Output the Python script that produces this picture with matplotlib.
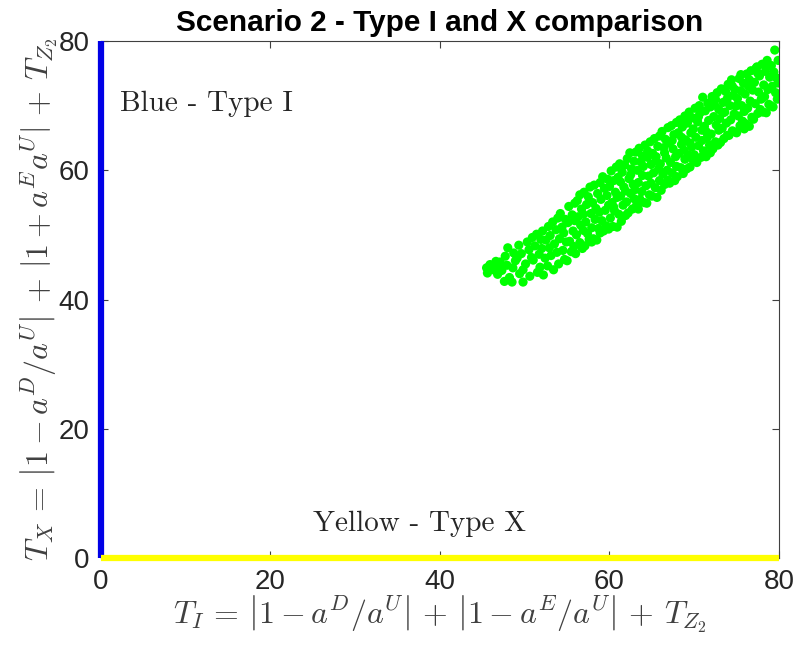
import matplotlib
matplotlib.use('Agg')
import matplotlib.pyplot as plt

# tick values shared by both axes
ticks = [0, 20, 40, 60, 80]

# Type I (blue) sits on x = 0, Type X (yellow) sits on y = 0
blue_x = [0, 0]
blue_y = [0, 80]
yellow_x = [0, 80]
yellow_y = [0, 0]

# green scatter (x in steps of ~1)
green_x = [
    45.5, 45.6, 45.9,
    46.3, 46.6, 46.8, 46.9,
    47.1, 47.3, 47.6, 47.7, 47.9,
    48.0, 48.2, 48.5, 48.6, 48.7, 48.9,
    49.1, 49.3, 49.4, 49.6, 49.8, 49.8,
    50.1, 50.3, 50.5, 50.6, 50.8, 50.9,
    51.0, 51.2, 51.4, 51.5, 51.7, 51.8, 51.9,
    52.0, 52.1, 52.2, 52.4, 52.5, 52.7, 52.8, 52.9,
    53.0, 53.1, 53.3, 53.4, 53.5, 53.7, 53.8, 53.9,
    54.0, 54.1, 54.2, 54.4, 54.5, 54.6, 54.7, 54.8, 54.9,
    55.0, 55.1, 55.2, 55.3, 55.5, 55.6, 55.7, 55.8, 55.9, 55.9,
    56.0, 56.1, 56.2, 56.3, 56.5, 56.5, 56.6, 56.7, 56.8, 56.9, 56.9,
    57.0, 57.1, 57.2, 57.3, 57.4, 57.5, 57.6, 57.7, 57.8, 57.9, 57.9,
    58.0, 58.1, 58.2, 58.3, 58.4, 58.5, 58.6, 58.7, 58.8, 58.9, 58.9,
    59.0, 59.1, 59.2, 59.3, 59.4, 59.5, 59.6, 59.7, 59.8, 59.9, 59.9,
    60.0, 60.1, 60.2, 60.3, 60.4, 60.5, 60.6, 60.7, 60.8, 60.9, 60.9, 60.5,
    61.0, 61.1, 61.2, 61.3, 61.4, 61.5, 61.6, 61.7, 61.8, 61.9, 61.9, 61.3,
    62.0, 62.1, 62.2, 62.3, 62.4, 62.5, 62.6, 62.7, 62.8, 62.9, 62.9, 62.5,
    63.0, 63.1, 63.2, 63.3, 63.4, 63.5, 63.6, 63.7, 63.8, 63.9, 63.9, 63.4,
    64.0, 64.1, 64.2, 64.3, 64.4, 64.5, 64.6, 64.7, 64.8, 64.9, 64.9, 64.5,
    65.0, 65.1, 65.2, 65.3, 65.4, 65.5, 65.6, 65.7, 65.8, 65.9, 65.9, 65.5,
    66.0, 66.1, 66.2, 66.3, 66.4, 66.5, 66.6, 66.7, 66.8, 66.9, 66.9, 66.5,
    67.0, 67.1, 67.2, 67.3, 67.4, 67.5, 67.6, 67.7, 67.8, 67.9, 67.9, 67.4,
    68.0, 68.1, 68.2, 68.3, 68.4, 68.5, 68.6, 68.7, 68.8, 68.9, 68.9, 68.5,
    69.0, 69.1, 69.2, 69.3, 69.4, 69.5, 69.6, 69.7, 69.8, 69.9, 69.9, 69.5,
    70.0, 70.1, 70.2, 70.3, 70.4, 70.5, 70.6, 70.7, 70.8, 70.9, 70.9, 70.5,
    71.0, 71.1, 71.2, 71.3, 71.4, 71.5, 71.6, 71.7, 71.8, 71.9, 71.9, 71.4,
    72.0, 72.1, 72.2, 72.3, 72.4, 72.5, 72.6, 72.7, 72.8, 72.9, 72.9, 72.5,
    73.0, 73.1, 73.2, 73.3, 73.4, 73.5, 73.6, 73.7, 73.8, 73.9, 73.9, 73.4,
    74.0, 74.1, 74.2, 74.3, 74.4, 74.5, 74.6, 74.7, 74.8, 74.9, 74.9, 74.5,
    75.0, 75.1, 75.2, 75.3, 75.4, 75.5, 75.6, 75.7, 75.8, 75.9, 75.9, 75.5,
    76.0, 76.1, 76.2, 76.3, 76.4, 76.5, 76.6, 76.7, 76.8, 76.9, 76.5,
    77.0, 77.1, 77.2, 77.3, 77.4, 77.5, 77.6, 77.7, 77.8, 77.9, 77.5,
    78.0, 78.1, 78.2, 78.3, 78.4, 78.5, 78.6, 78.7, 78.8, 78.9, 78.5,
    79.0, 79.1, 79.2, 79.3, 79.4, 79.5, 79.6, 79.7, 79.8, 79.9, 79.9,
]
green_y = [
    44.9, 44.1, 45.4,
    44.6, 45.9, 43.9, 45.1,
    45.8, 44.5, 42.8, 46.7, 45.3,
    48.0, 43.4, 42.7, 44.9, 47.2, 46.0,
    46.4, 48.4, 44.0, 47.1, 42.7, 44.6,
    45.5, 48.9, 47.7, 43.6, 46.5, 49.6,
    46.1, 48.3, 50.1, 44.2, 47.0, 45.0, 49.3,
    47.9, 50.6, 43.8, 46.4, 49.2, 45.2, 51.3, 48.0,
    49.9, 46.8, 52.0, 44.6, 48.6, 50.8, 47.3, 52.6,
    45.5, 49.4, 53.3, 51.2, 47.6, 50.3, 46.2, 52.4, 48.9,
    46.0, 51.9, 54.4, 49.0, 47.4, 53.1, 50.6, 48.2, 52.2, 54.9,
    47.1, 50.0, 55.3, 52.8, 56.2, 48.8, 51.5, 54.0, 47.9, 53.2, 50.7,
    56.6, 48.3, 52.0, 54.7, 50.2, 55.9, 49.3, 57.4, 53.3, 51.1, 48.9,
    55.0, 49.4, 57.7, 52.4, 54.1, 49.2, 56.4, 51.0, 53.5, 50.3, 58.1,
    55.5, 52.2, 59.0, 50.6, 57.2, 53.8, 51.4, 56.1, 58.6, 54.6, 50.9,
    57.5, 52.6, 59.9, 55.0, 51.3, 58.4, 53.7, 56.6, 60.5, 51.2, 55.8, 54.3,
    58.9, 53.2, 61.0, 56.0, 52.1, 59.7, 54.6, 57.4, 60.8, 53.0, 56.8, 58.2,
    55.1, 61.8, 53.4, 58.7, 62.7, 56.4, 60.2, 54.0, 57.8, 61.4, 55.6, 59.3,
    57.0, 62.8, 54.6, 60.0, 58.1, 63.4, 55.5, 61.3, 56.7, 59.2, 62.2, 54.0,
    60.6, 55.0, 63.9, 57.6, 54.9, 62.0, 59.1, 56.2, 64.4, 60.9, 58.0, 63.0,
    56.0, 62.6, 59.6, 64.9, 57.3, 61.4, 55.8, 63.7, 60.2, 58.4, 65.3, 62.1,
    61.0, 56.9, 66.0, 59.4, 63.5, 57.8, 64.8, 61.9, 60.0, 66.6, 58.5, 62.7,
    64.2, 58.0, 61.2, 66.9, 59.6, 63.3, 65.5, 58.4, 62.1, 67.4, 60.6, 64.6,
    59.0, 65.8, 62.6, 67.8, 60.4, 64.0, 66.7, 59.5, 63.1, 68.4, 61.7, 65.1,
    64.7, 60.2, 67.3, 62.4, 69.0, 60.5, 65.8, 63.6, 68.1, 61.5, 66.4, 64.2,
    62.4, 69.6, 65.1, 61.2, 67.5, 63.8, 70.0, 68.9, 62.0, 66.2, 64.6, 68.3,
    71.3, 63.0, 66.8, 69.2, 62.1, 65.0, 70.4, 67.7, 63.9, 62.7, 69.8, 66.0,
    65.6, 71.4, 63.3, 68.3, 70.1, 64.4, 67.0, 72.0, 63.9, 69.4, 66.2, 71.0,
    68.0, 64.3, 72.6, 66.5, 70.5, 64.9, 69.0, 72.2, 67.3, 65.4, 71.1, 68.9,
    73.3, 65.4, 70.0, 67.8, 74.0, 66.1, 71.6, 68.7, 72.5, 65.9, 69.9, 73.0,
    65.8, 71.1, 68.4, 74.2, 66.9, 72.3, 70.0, 67.6, 73.5, 69.1, 66.4, 74.8,
    71.8, 67.2, 74.9, 69.6, 73.0, 66.8, 70.7, 75.4, 68.2, 72.4, 74.0,
    67.9, 73.6, 70.3, 75.8, 76.0, 68.8, 72.1, 74.6, 69.4, 71.0, 75.0,
    76.4, 69.0, 73.2, 71.4, 75.3, 68.9, 77.0, 72.5, 70.2, 74.4, 76.0,
    70.0, 76.2, 73.0, 69.8, 75.2, 78.6, 72.0, 74.3, 71.0, 77.0, 73.5,
]

plt.rcParams['font.family'] = ['Liberation Sans', 'DejaVu Sans']
plt.rcParams['mathtext.fontset'] = 'cm'

fig = plt.figure(figsize=(7.97, 6.48), dpi=100)
ax = fig.add_axes((0.1267, 0.1389, 0.8507, 0.7978))

ax.scatter(green_x, green_y, s=44, color='#00ff00', edgecolors='none', zorder=2)
ax.plot(blue_x, blue_y, color='#0000e6', lw=4.5, solid_capstyle='butt', clip_on=False, zorder=3)
ax.plot(yellow_x, yellow_y, color='#ffff00', lw=4.5, solid_capstyle='butt', clip_on=False, zorder=4)

ax.set_xlim(0, 80)
ax.set_ylim(0, 80)
ax.set_xticks(ticks)
ax.set_yticks(ticks)
ax.tick_params(direction='in', length=5, width=0.8, color='#404040', labelsize=20,
               labelcolor='#262626', top=True, right=True, pad=8)
for sp in ax.spines.values():
    sp.set_color('#404040')
    sp.set_linewidth(0.8)

ax.text(2.2, 70.3, 'Blue - Type I', family='cmr10', fontsize=21, va='center', ha='left', color='#262626')
ax.text(37.6, 5.3, 'Yellow - Type X', family='cmr10', fontsize=21, va='center', ha='center', color='#262626')

ax.set_title('Scenario 2 - Type I and X comparison', fontsize=21.4, fontweight='bold', pad=7)
ax.set_xlabel(r'$T_I \,=\, \left|1 - a^D/a^U\right| \,+\, \left|1 - a^E/a^U\right| \,+\, T_{Z_2}$',
              fontsize=23, color='#404040', labelpad=-1)
ax.set_ylabel(r'$T_X \,=\, \left|1 - a^D/a^U\right| \,+\, \left|1 + a^E a^U\right| \,+\, T_{Z_2}$',
              fontsize=23, color='#404040', labelpad=-1)

fig.savefig('out.png', dpi=100)
